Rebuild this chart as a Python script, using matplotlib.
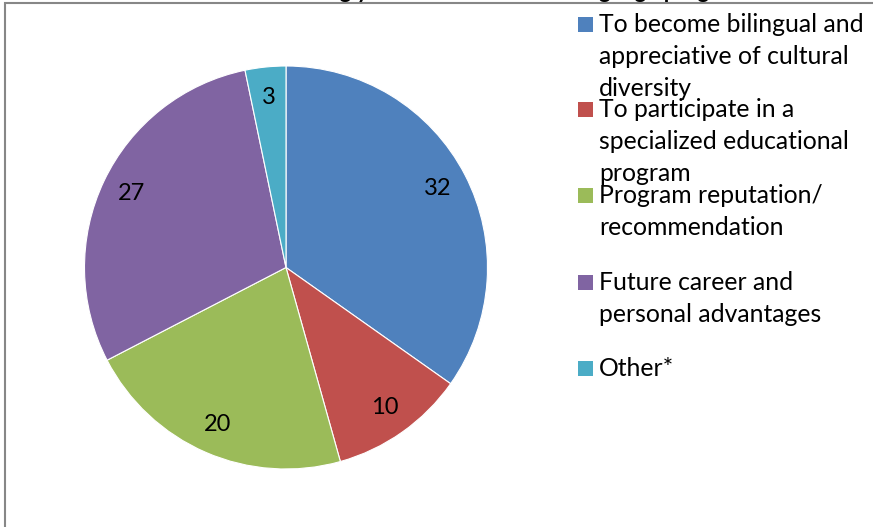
import numpy as np
import matplotlib
matplotlib.use("Agg")
import matplotlib.pyplot as plt
from matplotlib.patches import Rectangle

# data
reasons = ["To become bilingual and\nappreciative of cultural\ndiversity",
           "To participate in a\nspecialized educational\nprogram",
           "Program reputation/\nrecommendation",
           "Future career and\npersonal advantages",
           "Other*"]
counts = [32, 10, 20, 27, 3]
colors = ["#4F81BD", "#C0504D", "#9BBB59", "#8064A2", "#4BACC6"]
title = "Reasons for enrolling your child in the dual language program"

plt.rcParams['font.family'] = ['Lato', 'DejaVu Sans']

W, H = 873, 527
fig = plt.figure(figsize=(W/100, H/100), dpi=100)

# outer chart frame (partly cut off at the right and bottom)
fig.patches.append(Rectangle((5/W, -0.1), 1.2, 1 - 3/H + 0.1, transform=fig.transFigure,
                             fill=False, edgecolor="#878787", linewidth=1.5))

# title, cut off at the top like in the original screenshot
fig.text(445/W, 1 + 2.5/H, title, ha="center", va="baseline", fontsize=16, fontweight="bold")

# pie
cx, cy, r = 286, 267.5, 201.5
ax = fig.add_axes([(cx - r)/W, (H - cy - r)/H, 2*r/W, 2*r/H])
wedges, texts = ax.pie(counts, colors=colors, startangle=90, counterclock=False,
                       labels=[str(c) for c in counts], labeldistance=0.85,
                       wedgeprops=dict(linewidth=0.8, edgecolor="white"),
                       textprops=dict(fontsize=17, color="black"))
for t in texts:
    t.set_ha("center")
    t.set_va("center")
ax.set_xlim(-1, 1)
ax.set_ylim(-1, 1)
ax.set_aspect("equal")
ax.axis("off")

# legend drawn by hand to mimic the overlapping entries
entry_y = [24, 109, 195, 282, 368]
line_gap = 32
for i, (lab, col) in enumerate(zip(reasons, colors)):
    y = entry_y[i]
    fig.patches.append(Rectangle((578/W, 1 - (y + 7.5)/H), 15/W, 15/H,
                                 transform=fig.transFigure, facecolor=col, edgecolor="none"))
    for j, line in enumerate(lab.split("\n")):
        fig.text(599/W, 1 - (y + 8 + j*line_gap)/H, line, ha="left", va="baseline",
                 fontsize=17.8, color="black")

fig.savefig("out.png", dpi=100)
